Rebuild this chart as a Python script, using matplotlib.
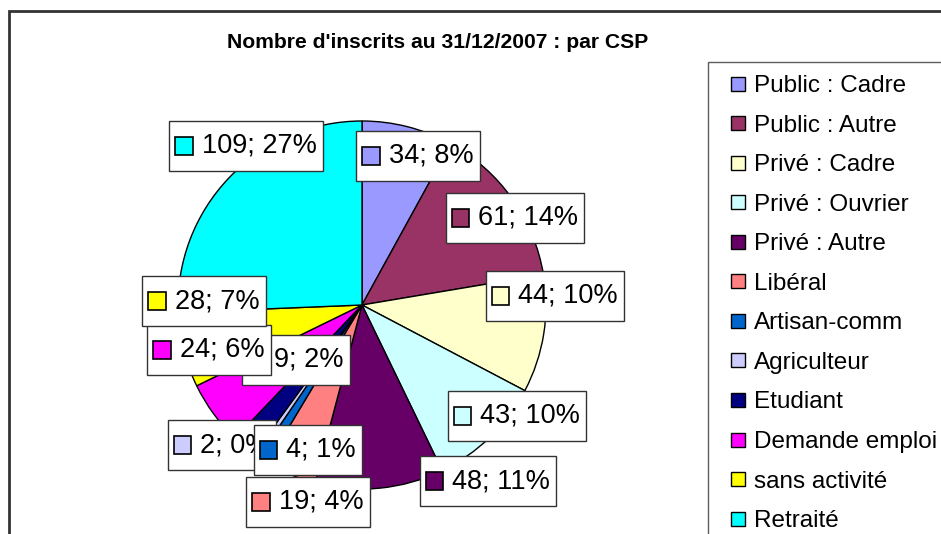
import matplotlib
matplotlib.use("Agg")
import matplotlib.pyplot as plt
from matplotlib.patches import Rectangle
from matplotlib.lines import Line2D
from matplotlib.offsetbox import AnnotationBbox, HPacker, TextArea, DrawingArea

plt.rcParams['font.family'] = ['Liberation Sans', 'DejaVu Sans']

# ---- data ----
categories = ["Public : Cadre", "Public : Autre", "Privé : Cadre", "Privé : Ouvrier",
              "Privé : Autre", "Libéral", "Artisan-comm", "Agriculteur", "Etudiant",
              "Demande emploi", "sans activité", "Retraité"]
counts = [34, 61, 44, 43, 48, 19, 4, 2, 9, 24, 28, 109]
pct_labels = [8, 14, 10, 10, 11, 4, 1, 0, 2, 6, 7, 27]
colors = ["#9999FF", "#993366", "#FFFFCC", "#CCFFFF", "#660066", "#FF8080",
          "#0066CC", "#CCCCFF", "#000080", "#FF00FF", "#FFFF00", "#00FFFF"]
title = "Nombre d'inscrits au 31/12/2007 : par CSP"

# label box centres (pixels, from top-left) and drawing order
label_pos = [(418, 156), (515, 218), (555, 296), (517, 416), (488, 481), (308, 502),
             (308, 450), (222, 445), (296, 360), (209, 350), (204, 301), (246, 146)]
draw_order = [0, 1, 2, 3, 4, 7, 6, 5, 8, 9, 10, 11]

W, H = 941, 534
fig = plt.figure(figsize=(W / 100, H / 100), dpi=100)
ax = fig.add_axes([0, 0, 1, 1])

wedges, _ = ax.pie(counts, colors=colors, startangle=90, counterclock=False,
                   center=(362, H - 305), radius=184,
                   wedgeprops=dict(edgecolor="black", linewidth=1))
ax.set_xlim(0, W)
ax.set_ylim(0, H)
ax.set_aspect('auto')
ax.axis('off')

# chart border
ax.add_patch(Rectangle((9, -20), 1000, H - 11 + 20, fill=False,
                       edgecolor="#333333", linewidth=2, clip_on=False))

ax.text(438, H - 42, title, ha='center', va='center', fontsize=15.2, fontweight='bold')

for z, i in enumerate(draw_order):
    # tall drawing area gives the label box its height
    da = DrawingArea(13, 27, 0, 0)
    da.add_artist(Rectangle((0, 7.25), 12.5, 12.5, facecolor=colors[i],
                            edgecolor='black', linewidth=1.2))
    ta = TextArea(f"{counts[i]}; {pct_labels[i]}%", textprops=dict(fontsize=19.5))
    pk = HPacker(children=[da, ta], align='center', pad=0, sep=6)
    px, py = label_pos[i]
    ab = AnnotationBbox(pk, (px, H - py), xycoords='data', frameon=True, pad=0.45,
                        box_alignment=(0.5, 0.5), annotation_clip=False,
                        bboxprops=dict(boxstyle='square,pad=0.45', facecolor='white',
                                       edgecolor='#333333', linewidth=1))
    ab.set_zorder(10 + z)
    ax.add_artist(ab)

handles = [Line2D([], [], marker='s', linestyle='none', markersize=10.5,
                  markerfacecolor=c, markeredgecolor='black', markeredgewidth=1)
           for c in colors]
leg = ax.legend(handles, categories, loc='upper left',
                bbox_to_anchor=(708 / W, 1 - 62 / H), bbox_transform=fig.transFigure,
                borderaxespad=0, frameon=True, fancybox=False, fontsize=17.5,
                handlelength=1.35, handletextpad=0.0,
                labelspacing=0.72, borderpad=0.55)
leg.get_frame().set_edgecolor('#333333')
leg.get_frame().set_linewidth(1)

fig.savefig("out.png", dpi=100)
